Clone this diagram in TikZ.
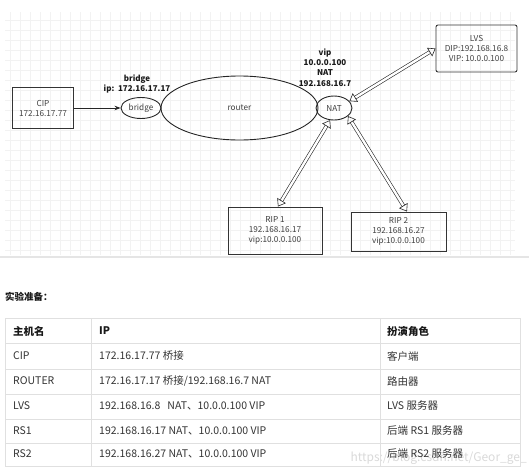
\documentclass[tikz,border=0pt]{standalone}
\usepackage{fontspec}
\setmainfont{Noto Sans CJK SC}
\usetikzlibrary{arrows.meta,shapes.geometric}
\tikzset{
	box/.style={draw=black!80, line width=0.9pt, align=center, inner sep=1pt, text=black!75, font=\fontsize{8.2}{10}\selectfont},
	oval/.style={ellipse, draw=black!85, line width=0.9pt, inner sep=0pt, text=black!75, font=\fontsize{8.2}{10}\selectfont},
	tag/.style={align=center, inner sep=0pt, text=black!90, font=\fontsize{8}{10.3}\selectfont\bfseries},
	hollow/.style={draw=black!85, line width=0.6pt, double=white, double distance=2.4pt, {Triangle[open,length=7pt,width=10pt]}-{Triangle[open,length=7pt,width=10pt]}},
	rule/.style={draw=black!12, line width=0.7pt},
	cell/.style={anchor=west, inner sep=0pt, text=black!80, font=\fontsize{10.5}{12}\selectfont},
	head/.style={cell, text=black!90, font=\fontsize{10.5}{12}\selectfont\bfseries}
}
\begin{document}
\begin{tikzpicture}[x=1pt, y=-1pt]
			\useasboundingbox (0,0) rectangle (529,474);
			%%%%% START %%%%%
			
			\draw[black!5, line width=0.4pt] (5,12) grid[step=10pt] (515,255);
			\draw[black!10, line width=1.2pt] (0,257) -- (529,257);
			
			\node[box, minimum width=61pt, minimum height=41pt] (cip) at (43,108) {CIP\\172.16.17.77};
			\node[oval, minimum width=40pt, minimum height=21pt] (bridge) at (141,108) {bridge};
			\node[oval, minimum width=157pt, minimum height=64pt] (router) at (239.5,108) {router};
			\node[oval, minimum width=36pt, minimum height=24pt] (nat) at (334,108) {NAT};
			
			\node[box, rounded corners=2pt, minimum width=81pt, minimum height=47pt] (lvs) at (476.5,48.5) {LVS\\DIP:192.168.16.8\\VIP: 10.0.0.100};
			\node[box, minimum width=94pt, minimum height=47pt] (rip1) at (275,230.5) {RIP 1\\192.168.16.17\\vip:10.0.0.100};
			\node[box, minimum width=95pt, minimum height=39pt] (rip2) at (398.5,231.5) {RIP 2\\192.168.16.27\\vip:10.0.0.100};
			
			\node[tag] (bridgeip) at (137,84) {bridge\\ip:~~172.16.17.17};
			\node[tag] (natip) at (325,67.5) {vip\\10.0.0.100\\NAT\\192.168.16.7};
			
			\draw[line width=0.8pt, black!85, -{Stealth[length=6pt,width=4.5pt]}] (cip) -- (bridge);
			\draw[hollow] (nat.24) -- (lvs.west);
			\draw[hollow] (nat.252) -- (rip1.83);
			\draw[hollow] (nat.-30) -- (rip2.67);
			
			%%%%% TABLE %%%%%
			
			\node[anchor=west, inner sep=0pt, text=black!90, font=\fontsize{9.5}{11}\selectfont\bfseries] (title) at (5,297) {实验准备：};
			
			\node[anchor=east, inner sep=0pt, text=black!15, font=\fontsize{12}{14}\selectfont] (mark) at (527,458) {https://blog.csdn.net/Geor\_ge\_};
			
			\draw[rule] (5,318) rectangle (520,466);
			\draw[rule] (5,343) -- (520,343);
			\draw[rule] (5,369) -- (520,369);
			\draw[rule] (5,394) -- (520,394);
			\draw[rule] (5,419) -- (520,419);
			\draw[rule] (5,443) -- (520,443);
			\draw[rule] (91,318) -- (91,466);
			\draw[rule] (380,318) -- (380,466);
			
			\node[head] (hname) at (13,331) {主机名};
			\node[head] (hip) at (99,331) {IP};
			\node[head] (hrole) at (387,331) {扮演角色};
			
			\node[cell] (cipname) at (13,356) {CIP};
			\node[cell] (cipaddr) at (99,356) {172.16.17.77 桥接};
			\node[cell] (ciprole) at (387,356) {客户端};
			
			\node[cell] (routername) at (13,381) {ROUTER};
			\node[cell] (routeraddr) at (99,381) {172.16.17.17 桥接/192.168.16.7 NAT};
			\node[cell] (routerrole) at (387,381) {路由器};
			
			\node[cell] (lvsname) at (13,406) {LVS};
			\node[cell] (lvsaddr) at (99,406) {192.168.16.8~~~NAT、10.0.0.100 VIP};
			\node[cell] (lvsrole) at (387,406) {LVS 服务器};
			
			\node[cell] (rsaname) at (13,431) {RS1};
			\node[cell] (rsaaddr) at (99,431) {192.168.16.17 NAT、10.0.0.100 VIP};
			\node[cell] (rsarole) at (387,431) {后端 RS1 服务器};
			
			\node[cell] (rsbname) at (13,454) {RS2};
			\node[cell] (rsbaddr) at (99,454) {192.168.16.27 NAT、10.0.0.100 VIP};
			\node[cell] (rsbrole) at (387,454) {后端 RS2 服务器};
			
			%%%%% END %%%%%
\end{tikzpicture}
\end{document}
